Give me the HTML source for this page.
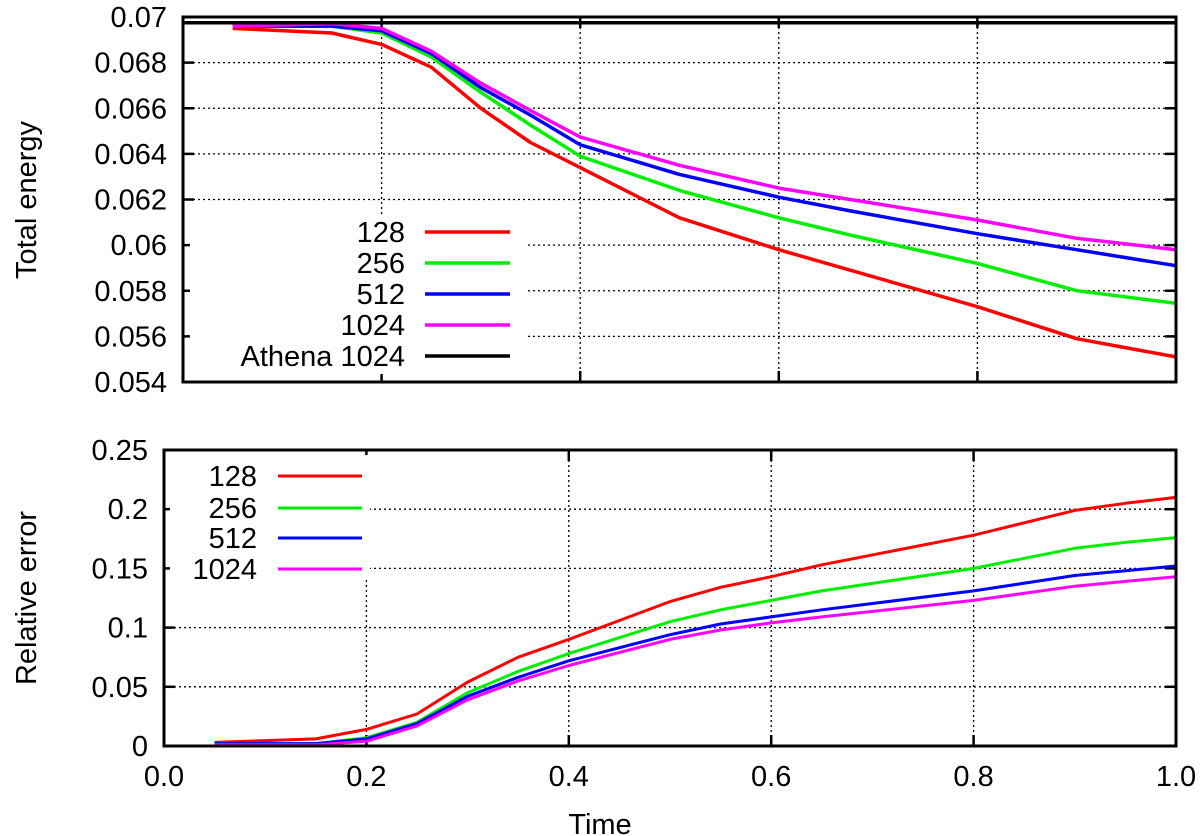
<!DOCTYPE html>
<html><head><meta charset="utf-8"><style>
html,body{margin:0;padding:0;background:#fff;}
svg{display:block;font-family:"Liberation Sans",Arial,sans-serif;}
</style></head><body>
<svg id="chart" width="1200" height="836" viewBox="0 0 1200 836" xmlns="http://www.w3.org/2000/svg"></svg>
<script>
// ---- data ----
const topX = [0.05, 0.15, 0.2, 0.25, 0.3, 0.35, 0.4, 0.5, 0.6, 0.672, 0.8, 0.9, 1.0];
const top128 = [0.0695, 0.0693, 0.0688, 0.0678, 0.0660, 0.0645, 0.0634, 0.0612, 0.0598, 0.0589, 0.0573, 0.0559, 0.0551];
const top256 = [0.0696, 0.0696, 0.0693, 0.06825, 0.0667, 0.06526, 0.0639, 0.0624, 0.0612, 0.06044, 0.0592, 0.0580, 0.05745];
const top512 = [0.0696, 0.0696, 0.0694, 0.0684, 0.0669, 0.0657, 0.0644, 0.0631, 0.0621, 0.0615, 0.0605, 0.0598, 0.0591];
const top1024 = [0.0696, 0.0697, 0.0695, 0.0685, 0.0671, 0.0659, 0.06474, 0.0635, 0.0625, 0.0620, 0.0611, 0.0603, 0.0598];
const athenaX = [0.0, 1.0];
const athenaY = [0.06975, 0.06975];
const botX = [0.05, 0.15, 0.2, 0.25, 0.3, 0.35, 0.4, 0.5, 0.55, 0.6, 0.65, 0.8, 0.9, 0.95, 1.0];
const err128 = [0.003, 0.006, 0.014, 0.027, 0.054, 0.075, 0.090, 0.122, 0.134, 0.143, 0.153, 0.178, 0.199, 0.205, 0.210];
const err256 = [0.002, 0.002, 0.007, 0.020, 0.045, 0.063, 0.078, 0.105, 0.115, 0.123, 0.131, 0.150, 0.167, 0.172, 0.176];
const err512 = [0.002, 0.002, 0.006, 0.019, 0.042, 0.058, 0.072, 0.094, 0.103, 0.109, 0.115, 0.131, 0.144, 0.148, 0.152];
const err1024 = [0.001, 0.001, 0.004, 0.017, 0.039, 0.055, 0.068, 0.090, 0.098, 0.104, 0.109, 0.123, 0.135, 0.139, 0.143];
const topYTicks = [0.054, 0.056, 0.058, 0.060, 0.062, 0.064, 0.066, 0.068, 0.070];
const topYLabels = ["0.054","0.056","0.058","0.06","0.062","0.064","0.066","0.068","0.07"];
const botYTicks = [0, 0.05, 0.1, 0.15, 0.2, 0.25];
const botYLabels = ["0","0.05","0.1","0.15","0.2","0.25"];
const xTicks = [0, 0.2, 0.4, 0.6, 0.8, 1.0];
const xLabels = ["0.0","0.2","0.4","0.6","0.8","1.0"];
const seriesNames = ["128","256","512","1024"];
const colors = ["#ff0000","#00ee00","#0000ff","#ff00ff"];

// ---- layout ----
const FS = 29;
const T = {l:183, r:1176, t:17, b:382, y0:0.054, y1:0.070};
const B = {l:164, r:1176, t:450, b:746, y0:0, y1:0.25};
const NS = "http://www.w3.org/2000/svg";
const svg = document.getElementById('chart');
function el(tag, attrs, parent){const e=document.createElementNS(NS,tag);for(const k in attrs)e.setAttribute(k,attrs[k]);(parent||svg).appendChild(e);return e;}
function sx(P,v){return P.l+(v-0)/(1-0)*(P.r-P.l);}
function sy(P,v){return P.b-(v-P.y0)/(P.y1-P.y0)*(P.b-P.t);}

function drawFrame(P, yTicks, yLabels, showX, name){
  const g = el('g',{});
  
  
  yTicks.forEach((v,i)=>{
    const y=sy(P,v);
    if(i>0 && i<yTicks.length-1) el('line',{x1:P.l,x2:P.r,y1:y,y2:y,stroke:'#000','stroke-width':1.3,'stroke-dasharray':'2,3'},g);
    el('line',{x1:P.l,x2:P.l+11,y1:y,y2:y,stroke:'#000','stroke-width':2.5},g);
    el('line',{x1:P.r-11,x2:P.r,y1:y,y2:y,stroke:'#000','stroke-width':2.5},g);
    const t=el('text',{x:P.l-16,y:y+10,'text-anchor':'end','font-size':FS,fill:'#000'});
    t.textContent=yLabels[i];
    
    
  });
  xTicks.forEach((v,i)=>{
    const x=sx(P,v);
    if(i>0 && i<xTicks.length-1) el('line',{x1:x,x2:x,y1:P.t,y2:P.b,stroke:'#000','stroke-width':1.3,'stroke-dasharray':'2,3'},g);
    el('line',{x1:x,x2:x,y1:P.b-11,y2:P.b,stroke:'#000','stroke-width':2.5},g);
    el('line',{x1:x,x2:x,y1:P.t,y2:P.t+11,stroke:'#000','stroke-width':2.5},g);
    if(showX){
      const t=el('text',{x:x,y:P.b+40,'text-anchor':'middle','font-size':FS,fill:'#000'});
      t.textContent=xLabels[i];
      
      
    }
  });
}
function drawLine(P, xs, ys, color, name, w){
  const d = xs.map((x,i)=>(i?'L':'M')+sx(P,x).toFixed(1)+','+sy(P,ys[i]).toFixed(1)).join(' ');
  const p=el('path',{d:d,fill:'none',stroke:color,'stroke-width':w||3,'stroke-linejoin':'round'});
  
  
}
function legendEntry(xText, xl1, xl2, y, label, color, name, w){
  const g=el('g',{});
  
  
  const t=el('text',{x:xText,y:y+10,'text-anchor':'end','font-size':FS,fill:'#000'},g);
  t.textContent=label;
  el('line',{x1:xl1,x2:xl2,y1:y,y2:y,stroke:color,'stroke-width':w||3},g);
}

// ---- top panel ----
drawFrame(T, topYTicks, topYLabels, false, 'energy');
el('rect',{x:190,y:216,width:335,height:158,fill:'#fff'});
const topSeries=[top128,top256,top512,top1024];
topSeries.forEach((s,i)=>drawLine(T, topX, s, colors[i], 'energy-line-'+seriesNames[i], 3.5));
drawLine(T, athenaX, athenaY, '#000', 'energy-line-athena-1024', 3.5);
el('rect',{x:T.l,y:T.t,width:T.r-T.l,height:T.b-T.t,fill:'none',stroke:'#000','stroke-width':3});
const topLegY=[232,263,294,325,356];
seriesNames.forEach((n,i)=>legendEntry(405,425,510,topLegY[i],n,colors[i],'energy-legend-'+n,3.5));
legendEntry(405,425,510,topLegY[4],'Athena 1024','#000','energy-legend-athena',3.5);

// ---- bottom panel ----
drawFrame(B, botYTicks, botYLabels, true, 'error');
el('rect',{x:170,y:455,width:200,height:125,fill:'#fff'});
const botSeries=[err128,err256,err512,err1024];
botSeries.forEach((s,i)=>drawLine(B, botX, s, colors[i], 'error-line-'+seriesNames[i]));
el('rect',{x:B.l,y:B.t,width:B.r-B.l,height:B.b-B.t,fill:'none',stroke:'#000','stroke-width':3});
const botLegY=[476,508,538,569];
seriesNames.forEach((n,i)=>legendEntry(257,278,362,botLegY[i],n,colors[i],'error-legend-'+n));

// ---- titles ----
let t=el('text',{x:600,y:834,'text-anchor':'middle','font-size':FS,fill:'#000'});
t.textContent='Time';


t=el('text',{x:0,y:0,'text-anchor':'middle','font-size':FS,fill:'#000',transform:'translate(36,200) rotate(-90)'});
t.textContent='Total energy';


t=el('text',{x:0,y:0,'text-anchor':'middle','font-size':FS,fill:'#000',transform:'translate(36,598) rotate(-90)'});
t.textContent='Relative error';


</script>
</body></html>
